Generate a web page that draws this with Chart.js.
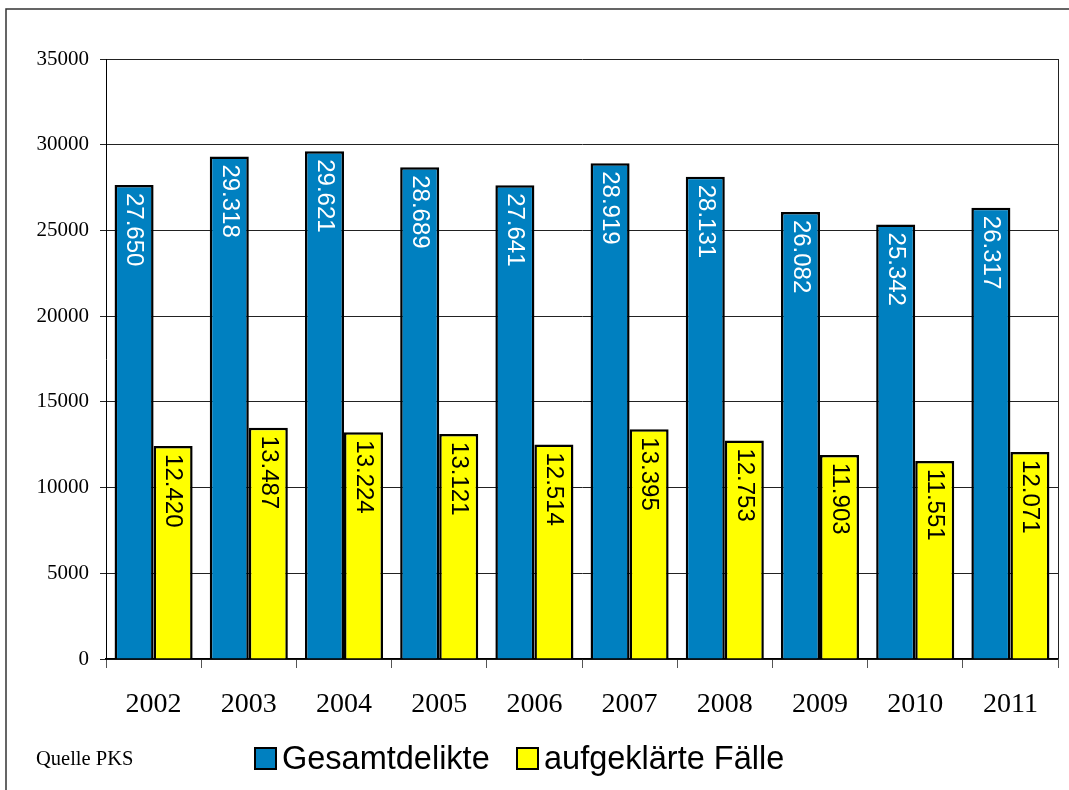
<!DOCTYPE html>
<html>
<head>
<meta charset="utf-8">
<script src="https://cdn.jsdelivr.net/npm/chart.js@4"></script>
<style>
  html, body { margin: 0; padding: 0; background: #fff; }
  #wrap { position: relative; width: 1069px; height: 790px; }
</style>
</head>
<body>
<div id="wrap"><canvas id="chart" width="1069" height="790"></canvas></div>
<script>
// Chart data
const years = ["2002", "2003", "2004", "2005", "2006", "2007", "2008", "2009", "2010", "2011"];
const gesamtdelikte = [27650, 29318, 29621, 28689, 27641, 28919, 28131, 26082, 25342, 26317];
const aufgeklaert = [12420, 13487, 13224, 13121, 12514, 13395, 12753, 11903, 11551, 12071];
const seriesNames = ["Gesamtdelikte", "aufgeklärte Fälle"];
const yMax = 35000;
const yStep = 5000;
const sourceNote = "Quelle PKS";

// German thousands separator
function fmt(v) {
    return String(v).replace(/\B(?=(\d{3})+(?!\d))/g, ".");
}

// Frame, plot border, rotated value labels, legend and source note
const extras = {
    id: "extras",
    beforeDraw(chart) {
        const ctx = chart.ctx;
        ctx.save();
        ctx.fillStyle = "#fff";
        ctx.fillRect(0, 0, chart.width, chart.height);
        ctx.strokeStyle = "#333";
        ctx.lineWidth = 1.5;
        ctx.beginPath();
        ctx.moveTo(6, chart.height);
        ctx.lineTo(6, 9);
        ctx.lineTo(chart.width, 9);
        ctx.stroke();
        ctx.restore();
    },
    afterDatasetsDraw(chart) {
        const ctx = chart.ctx;
        const a = chart.chartArea;
        ctx.save();
        // plot area border
        ctx.strokeStyle = "#222";
        ctx.lineWidth = 1;
        ctx.beginPath();
        ctx.moveTo(a.right + 0.5, a.top);
        ctx.lineTo(a.right + 0.5, a.bottom);
        ctx.stroke();

        // value labels, rotated, reading downward
        ctx.font = "24px 'Liberation Sans', Arial, sans-serif";
        ctx.textAlign = "left";
        ctx.textBaseline = "middle";
        chart.data.datasets.forEach((ds, i) => {
            chart.getDatasetMeta(i).data.forEach((bar, j) => {
                ctx.save();
                ctx.translate(bar.x, bar.y + 8);
                ctx.rotate(Math.PI / 2);
                ctx.fillStyle = i === 0 ? "#fff" : "#000";
                ctx.fillText(fmt(ds.data[j]), 0, 0);
                ctx.restore();
            });
        });

        // source note
        ctx.fillStyle = "#000";
        ctx.font = "20.5px 'Liberation Serif', 'Times New Roman', serif";
        ctx.textBaseline = "middle";
        ctx.fillText(sourceNote, 36, 760);

        // legend
        const legendX = [255, 517];
        ctx.font = "32.5px 'Liberation Sans', Arial, sans-serif";
        chart.data.datasets.forEach((ds, i) => {
            const x = legendX[i];
            ctx.fillStyle = ds.backgroundColor;
            ctx.fillRect(x, 748, 21, 21);
            ctx.strokeStyle = "#000";
            ctx.lineWidth = 2;
            ctx.strokeRect(x, 748, 21, 21);
            ctx.fillStyle = "#000";
            ctx.fillText(ds.label, x + 27, 760);
        });
        ctx.restore();
    }
};

const ctx = document.getElementById("chart").getContext("2d");
const barChart = new Chart(ctx, {
    type: "bar",
    data: {
        labels: years,
        datasets: [
            {
                label: seriesNames[0],
                data: gesamtdelikte,
                backgroundColor: "#0080c0",
                borderColor: "#000",
                borderWidth: 2.5,
            },
            {
                label: seriesNames[1],
                data: aufgeklaert,
                backgroundColor: "#ffff00",
                borderColor: "#000",
                borderWidth: 2.5,
            },
        ],
    },
    options: {
        responsive: false,
        animation: false,
        devicePixelRatio: 1,
        layout: { padding: { top: 59, right: 11, left: 0, bottom: 0 } },
        datasets: { bar: { barPercentage: 1, categoryPercentage: 0.82 } },
        plugins: {
            legend: { display: false },
            tooltip: { enabled: false },
        },
        scales: {
            x: {
                afterFit: scale => { scale.height = 131; },
                grid: {
                    offset: true,
                    drawOnChartArea: false,
                    tickLength: 9,
                    color: "#555",
                },
                border: { color: "#000", width: 1.5 },
                ticks: {
                    color: "#000",
                    padding: 20,
                    font: { family: "'Liberation Serif', 'Times New Roman', serif", size: 28 },
                },
            },
            y: {
                min: 0,
                max: yMax,
                afterFit: scale => { scale.width = 106; },
                grid: { color: "#222", tickLength: 6, lineWidth: 1 },
                border: { color: "#000", width: 1 },
                ticks: {
                    stepSize: yStep,
                    color: "#000",
                    padding: 11,
                    callback: v => String(v),
                    font: { family: "'Liberation Serif', 'Times New Roman', serif", size: 21 },
                },
            },
        },
    },
    plugins: [extras],
});
</script>
</body>
</html>
